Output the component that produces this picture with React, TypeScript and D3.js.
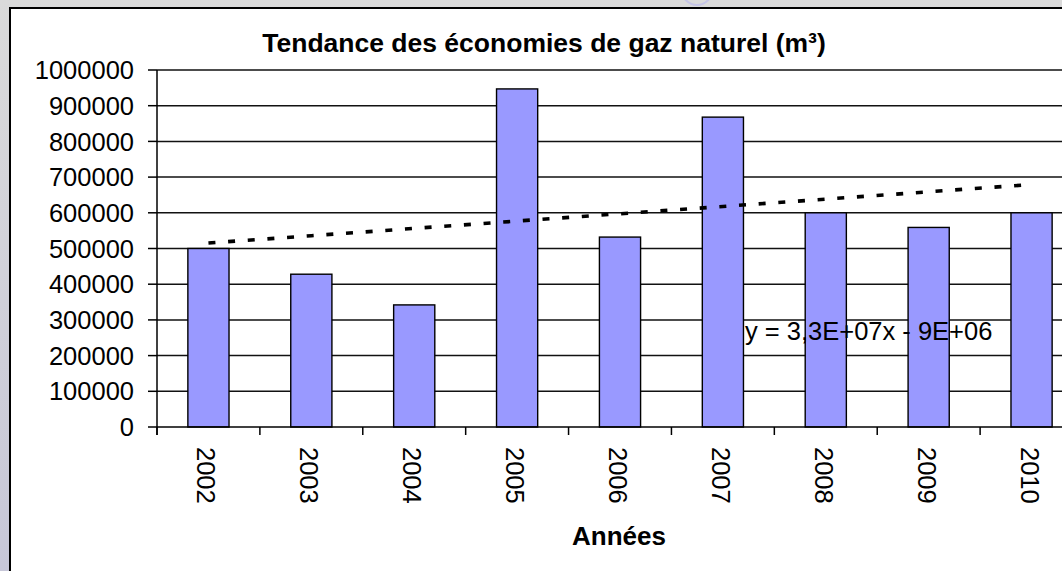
import * as d3 from 'd3';

const years = ['2002', '2003', '2004', '2005', '2006', '2007', '2008', '2009', '2010'];
const savings = [500000, 428000, 342000, 947000, 532000, 868000, 600000, 559000, 600000];
const yTicks = [0, 100000, 200000, 300000, 400000, 500000, 600000, 700000, 800000, 900000, 1000000];
const title = 'Tendance des économies de gaz naturel (m³)';
const xTitle = 'Années';
const trendLabel = 'y = 3,3E+07x - 9E+06';

const width = 1062;
const height = 571;
const font = '"Liberation Sans", Arial, sans-serif';

// least squares fit over category index, like the spreadsheet trendline
function linearFit(values: number[]) {
  const xs = values.map((_, i) => i + 1);
  const mx = d3.mean(xs) as number;
  const my = d3.mean(values) as number;
  let num = 0;
  let den = 0;
  xs.forEach((x, i) => {
    num += (x - mx) * (values[i] - my);
    den += (x - mx) * (x - mx);
  });
  const slope = num / den;
  const intercept = my - slope * mx;
  return xs.map((x) => intercept + slope * x);
}

export default function App() {
  const left = 157;
  const right = 1083;
  const top = 70;
  const bottom = 427;

  const x = d3.scaleBand<string>().domain(years).range([left, right]).paddingInner(0.6).paddingOuter(0.3);
  const y = d3.scaleLinear().domain([0, 1000000]).range([bottom, top]);
  const step = x.step();
  const boundary = (d: string) => (x(d) as number) - step * 0.3;

  const trend = linearFit(savings);
  const trendPath = d3
    .line<number>()
    .x((_, i) => (x(years[i]) as number) + x.bandwidth() / 2)
    .y((v) => y(v))(trend);

  return (
    <svg
      width={width}
      height={height}
      style={{ position: 'absolute', left: 0, top: 0, fontFamily: font }}
    >
      <defs>
        <linearGradient id="bg" x1="0" y1="0" x2="0" y2="1">
          <stop offset="0" stopColor="#dadada" />
          <stop offset="1" stopColor="#c7c7d8" />
        </linearGradient>
      </defs>
      <rect width={width} height={height} fill="url(#bg)" />
      <circle cx={697} cy={-10} r={15} fill="none" stroke="#c4c4e6" strokeWidth={2} />
      <rect x={10} y={8} width={1100} height={620} fill="#fff" stroke="#000" strokeWidth={2} />

      <text x={544} y={52} textAnchor="middle" fontSize={26.5} fontWeight="bold" fill="#000">
        {title}
      </text>

      {yTicks.filter((t) => t > 0).map((t) => (
        <line key={'g' + t} x1={left} x2={width} y1={y(t)} y2={y(t)} stroke="#111" strokeWidth={1.5} />
      ))}

      {savings.map((v, i) => (
        <rect
          key={years[i]}
          x={x(years[i])}
          y={y(v)}
          width={x.bandwidth()}
          height={bottom - y(v)}
          fill="#9999ff"
          stroke="#000"
          strokeWidth={1.4}
        />
      ))}

      <line x1={left} x2={left} y1={top} y2={bottom + 8} stroke="#000" strokeWidth={1.5} />
      <line x1={left} x2={width} y1={bottom} y2={bottom} stroke="#000" strokeWidth={1.5} />
      {yTicks.map((t) => (
        <g key={'t' + t}>
          <line x1={left - 9} x2={left} y1={y(t)} y2={y(t)} stroke="#000" strokeWidth={1.5} />
          <text x={134} y={y(t)} dy="0.36em" textAnchor="end" fontSize={25.5} fill="#000">
            {t}
          </text>
        </g>
      ))}
      {years.map((d) => (
        <line key={'xt' + d} x1={boundary(d)} x2={boundary(d)} y1={bottom} y2={bottom + 8} stroke="#000" strokeWidth={1.5} />
      ))}
      {years.map((d) => {
        const cx = (x(d) as number) + x.bandwidth() / 2 - 2;
        return (
          <text
            key={'xl' + d}
            transform={`translate(${cx}, 447) rotate(90)`}
            dominantBaseline="central"
            fontSize={25.5}
            fill="#000"
          >
            {d}
          </text>
        );
      })}

      <path d={trendPath ?? ''} fill="none" stroke="#000" strokeWidth={3.6} strokeDasharray="7 12.7" />
      <text x={745} y={340} fontSize={25.5} fill="#000">
        {trendLabel}
      </text>

      <text x={619} y={545} textAnchor="middle" fontSize={26} fontWeight="bold" fill="#000">
        {xTitle}
      </text>
    </svg>
  );
}
